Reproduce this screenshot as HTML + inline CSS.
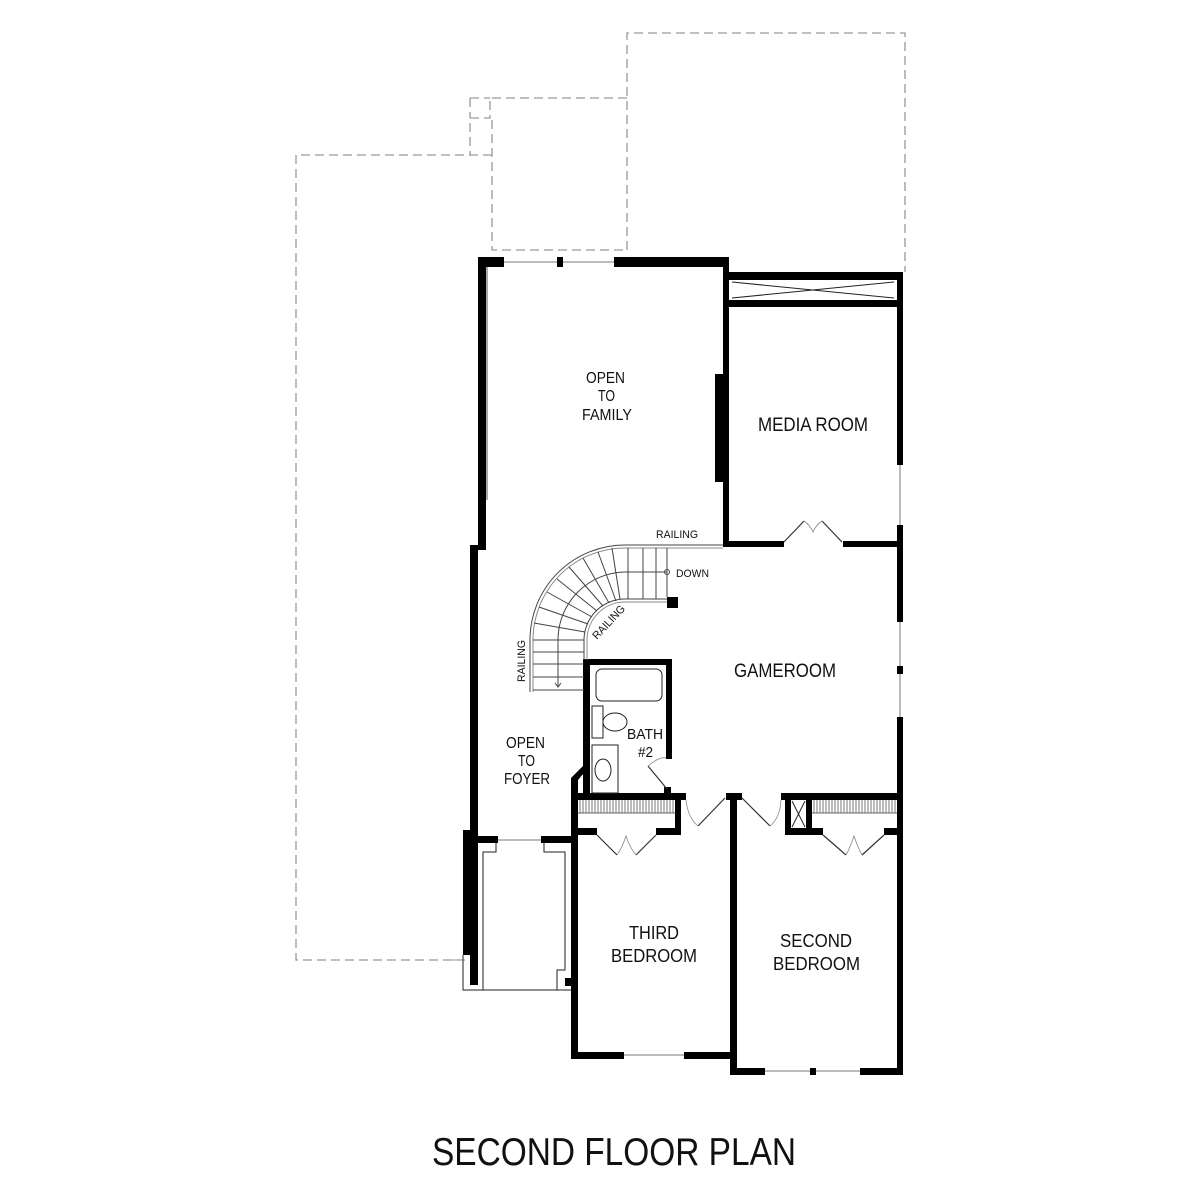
<!DOCTYPE html>
<html><head><meta charset="utf-8"><style>html,body{margin:0;padding:0;background:#fff}svg{display:block}text{font-family:"Liberation Sans",Arial,sans-serif;fill:#111}</style></head>
<body>
<svg width="1200" height="1200" viewBox="0 0 1200 1200" xmlns="http://www.w3.org/2000/svg">
<rect width="1200" height="1200" fill="#fff"/>
<g fill="none" stroke="#999" stroke-width="1.3" stroke-dasharray="9,5">
<polyline points="627,250 627,33 905,33 905,272"/>
<polyline points="627,98 490,98 490,118 470,118 470,155"/>
<polyline points="470,98 490,98"/>
<polyline points="470,98 470,118"/>
<polyline points="492,120 492,250 627,250"/>
<polyline points="492,155 296,155 296,960 465,960"/>
</g>
<g stroke="#bbb" stroke-width="2" fill="none">
<line x1="504" y1="262" x2="557" y2="262"/><line x1="562" y1="262" x2="614" y2="262"/>
<line x1="900" y1="465" x2="900" y2="525"/>
<line x1="900" y1="622" x2="900" y2="668"/><line x1="900" y1="673" x2="900" y2="717"/>
<line x1="624" y1="1055" x2="684" y2="1055"/>
<line x1="765" y1="1071" x2="810" y2="1071"/><line x1="816" y1="1071" x2="860" y2="1071"/>
<line x1="497" y1="840" x2="541" y2="840"/>
</g>
<line x1="487" y1="267" x2="487" y2="500" stroke="#555" stroke-width="1"/>
<g fill="#000">
<rect x="478" y="257" width="26" height="10"/>
<rect x="557" y="257" width="6" height="10"/>
<rect x="614" y="257" width="115" height="10"/>
<rect x="478" y="257" width="8" height="293"/>
<rect x="470" y="545" width="8" height="440"/>
<rect x="723" y="257" width="6" height="290"/>
<rect x="715" y="374" width="14" height="108"/>
<rect x="729" y="272" width="174" height="8"/>
<rect x="729" y="300" width="174" height="7"/>
<rect x="897" y="272" width="6" height="193"/>
<rect x="897" y="525" width="6" height="97"/>
<rect x="897" y="666" width="6" height="8"/>
<rect x="897" y="717" width="6" height="358"/>
<rect x="723" y="541" width="61" height="6"/>
<rect x="843" y="541" width="60" height="6"/>
<rect x="583" y="659" width="7" height="140"/>
<rect x="583" y="659" width="89" height="6"/>
<rect x="666" y="659" width="6" height="100"/>
<rect x="664" y="787" width="7" height="8"/>
<rect x="575" y="793" width="111" height="7"/>
<polygon points="571,800 571,778 583,766 583,774 578,780 578,800"/>
<rect x="726" y="793" width="16" height="7"/>
<rect x="781" y="793" width="122" height="7"/>
<rect x="730" y="793" width="7" height="282"/>
<rect x="571" y="793" width="7" height="265"/>
<rect x="571" y="1052" width="53" height="7"/>
<rect x="684" y="1052" width="49" height="7"/>
<rect x="730" y="1068" width="35" height="7"/>
<rect x="810" y="1068" width="6" height="7"/>
<rect x="860" y="1068" width="43" height="7"/>
<rect x="675" y="793" width="6" height="42"/>
<rect x="578" y="828" width="19" height="7"/>
<rect x="656" y="828" width="25" height="7"/>
<rect x="785" y="793" width="6" height="42"/>
<rect x="806" y="793" width="6" height="42"/>
<rect x="785" y="828" width="38" height="7"/>
<rect x="884" y="828" width="19" height="7"/>
<rect x="463" y="830" width="7" height="125"/>
<rect x="470" y="836" width="28" height="7"/>
<rect x="541" y="836" width="30" height="7"/>
<rect x="565" y="978" width="6" height="8"/>
<rect x="667" y="597" width="11" height="11"/>
</g>
<g fill="none" stroke="#222" stroke-width="1">
<polyline points="463,955 463,990 483,990 483,852 496,852 496,843"/>
<polyline points="544,843 544,852 565,852 565,970 557,970 557,990 571,990"/>
<line x1="483" y1="990" x2="557" y2="990"/>
<line x1="450" y1="960" x2="463" y2="960" stroke="#999"/>
<line x1="732" y1="282" x2="894" y2="298"/><line x1="732" y1="298" x2="894" y2="282"/>
<line x1="792" y1="801" x2="805" y2="827"/><line x1="805" y1="801" x2="792" y2="827"/>
<rect x="596" y="669" width="66" height="32" rx="6"/>
<rect x="592" y="706" width="11" height="32"/>
<ellipse cx="615" cy="722" rx="12" ry="9"/>
<rect x="592" y="745" width="26" height="48"/>
<ellipse cx="603" cy="770" rx="8" ry="11"/>
</g>
<g stroke="#333" stroke-width="0.8">
<line x1="578" y1="813" x2="675" y2="813"/><line x1="812" y1="813" x2="897" y2="813"/>
</g>
<pattern id="h" width="3" height="13" patternUnits="userSpaceOnUse"><line x1="1" y1="0" x2="1" y2="13" stroke="#555" stroke-width="0.8"/></pattern>
<rect x="578" y="800" width="97" height="13" fill="url(#h)"/>
<rect x="812" y="800" width="85" height="13" fill="url(#h)"/>
<g fill="none" stroke="#333" stroke-width="1.2">
<line x1="784" y1="542" x2="804" y2="521"/><line x1="842" y1="542" x2="822" y2="521"/>
<path d="M804,521 Q810,525 813,532 Q816,525 822,521" stroke="#888" stroke-width="0.8"/>
<line x1="648" y1="766" x2="667" y2="789"/><path d="M648,766 Q660,756 666,758" stroke="#888" stroke-width="0.8"/>
<line x1="725" y1="798" x2="698" y2="826"/><path d="M686,800 Q688,818 698,826" stroke="#888" stroke-width="0.8"/>
<line x1="742" y1="798" x2="770" y2="826"/><path d="M781,800 Q780,818 770,826" stroke="#888" stroke-width="0.8"/>
<line x1="597" y1="835" x2="617" y2="855"/><line x1="656" y1="835" x2="636" y2="855"/>
<path d="M617,855 Q622,848 626,836 Q630,848 636,855" stroke="#888" stroke-width="0.8"/>
<line x1="823" y1="835" x2="846" y2="855"/><line x1="884" y1="835" x2="862" y2="855"/>
<path d="M846,855 Q850,848 854,836 Q858,848 862,855" stroke="#888" stroke-width="0.8"/>
</g>
<g fill="none" stroke="#444" stroke-width="1">
<path d="M530,692 L530,640 A95,95 0 0 1 625,545 L723,545"/>
<path d="M533,692 L533,640 A92,92 0 0 1 625,548 L723,548" stroke="#888"/>
<path d="M584,660 L584,640 A41,41 0 0 1 625,599 L667,599"/>
<path d="M587,660 L587,640 A38,38 0 0 1 625,602 L667,602" stroke="#888"/>
<line x1="667" y1="548" x2="667" y2="597"/>
<line x1="628" y1="548" x2="628" y2="599"/><line x1="643" y1="548" x2="643" y2="599"/><line x1="656" y1="548" x2="656" y2="599"/>
<line x1="533" y1="652" x2="584" y2="652"/><line x1="533" y1="664" x2="584" y2="664"/><line x1="533" y1="677" x2="584" y2="677"/><line x1="533" y1="690" x2="584" y2="690"/>
<line x1="533" y1="640" x2="584" y2="640"/>
<line x1="534" y1="623" x2="585" y2="632"/><line x1="539" y1="607" x2="588" y2="624"/><line x1="547" y1="592" x2="592" y2="617"/><line x1="557" y1="579" x2="597" y2="611"/><line x1="569" y1="567" x2="603" y2="606"/><line x1="583" y1="558" x2="609" y2="603"/><line x1="598" y1="552" x2="616" y2="601"/><line x1="612" y1="548" x2="620" y2="599"/>
<path d="M667,572 L625,572 A68,68 0 0 0 558,640 L558,686"/>
<path d="M555,683 L558,687 L561,683"/>
<circle cx="667" cy="572" r="2.5"/>
</g>
<g font-size="16">
<text x="586" y="383" textLength="39" lengthAdjust="spacingAndGlyphs">OPEN</text>
<text x="598" y="401" textLength="17" lengthAdjust="spacingAndGlyphs">TO</text>
<text x="582" y="420" textLength="50" lengthAdjust="spacingAndGlyphs">FAMILY</text>
<text x="506" y="748" textLength="39" lengthAdjust="spacingAndGlyphs">OPEN</text>
<text x="518" y="766" textLength="17" lengthAdjust="spacingAndGlyphs">TO</text>
<text x="504" y="784" textLength="46" lengthAdjust="spacingAndGlyphs">FOYER</text>
<text x="627" y="739" font-size="15" textLength="36" lengthAdjust="spacingAndGlyphs">BATH</text>
<text x="638" y="757" font-size="15" textLength="15" lengthAdjust="spacingAndGlyphs">#2</text>
</g>
<text x="758" y="431" font-size="19" textLength="110" lengthAdjust="spacingAndGlyphs">MEDIA ROOM</text>
<text x="734" y="677" font-size="19" textLength="102" lengthAdjust="spacingAndGlyphs">GAMEROOM</text>
<text x="629" y="939" font-size="18" textLength="50" lengthAdjust="spacingAndGlyphs">THIRD</text>
<text x="611" y="962" font-size="18" textLength="86" lengthAdjust="spacingAndGlyphs">BEDROOM</text>
<text x="780" y="947" font-size="18" textLength="72" lengthAdjust="spacingAndGlyphs">SECOND</text>
<text x="773" y="970" font-size="18" textLength="87" lengthAdjust="spacingAndGlyphs">BEDROOM</text>
<text x="656" y="538" font-size="11" textLength="42" lengthAdjust="spacingAndGlyphs">RAILING</text>
<text x="676" y="577" font-size="11" textLength="33" lengthAdjust="spacingAndGlyphs">DOWN</text>
<text x="0" y="0" font-size="11" textLength="42" lengthAdjust="spacingAndGlyphs" transform="translate(597,640) rotate(-47)">RAILING</text>
<text x="0" y="0" font-size="11" textLength="42" lengthAdjust="spacingAndGlyphs" transform="translate(525,682) rotate(-90)">RAILING</text>
<text x="432" y="1165" font-size="39" textLength="364" lengthAdjust="spacingAndGlyphs">SECOND FLOOR PLAN</text>
</svg>
</body></html>
